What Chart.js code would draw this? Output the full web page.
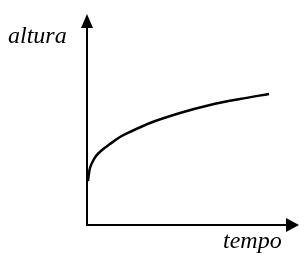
<!DOCTYPE html>
<html>
<head>
<meta charset="utf-8">
<script src="https://cdn.jsdelivr.net/npm/chart.js@4"></script>
<style>
  html, body { margin: 0; padding: 0; background: #fff; }
  #wrap { width: 299px; height: 255px; }
</style>
</head>
<body>
<div id="wrap"><canvas id="_canvasc" width="299" height="255"></canvas></div>
<script>
	// ******************************************************** DATA
	var tempo  = [ 1, 2, 3, 6, 9, 15, 23, 33, 45, 63, 93, 123, 153, 182 ];
	var altura = [ 44, 52, 57, 64, 69, 75, 81, 88, 94, 102, 112, 120, 126, 131 ];
	var xLabel = "tempo";
	var yLabel = "altura";

	var points = tempo.map(function (t, i) { return { x: t, y: altura[i] }; });

	// ******************************************************** AXES PLUGIN
	var axesArrows = {
		id: 'axesArrows',
		afterDraw: function (chart) {
			var c = chart.ctx, a = chart.chartArea;
			var x0 = chart.scales.x.getPixelForValue(0);
			var y0 = chart.scales.y.getPixelForValue(0);
			c.save();
			c.strokeStyle = '#000';
			c.fillStyle = '#000';
			c.lineWidth = 2;
			// y axis
			c.beginPath();
			c.moveTo(x0, y0);
			c.lineTo(x0, a.top + 10);
			c.stroke();
			c.beginPath();
			c.moveTo(x0, a.top);
			c.lineTo(x0 - 6, a.top + 14);
			c.lineTo(x0 + 6, a.top + 14);
			c.closePath();
			c.fill();
			// x axis
			c.beginPath();
			c.moveTo(x0 - 1, y0);
			c.lineTo(a.right - 10, y0);
			c.stroke();
			c.beginPath();
			c.moveTo(a.right, y0);
			c.lineTo(a.right - 13, y0 - 7);
			c.lineTo(a.right - 13, y0 + 7);
			c.closePath();
			c.fill();
			// labels
			c.font = 'italic 24px "Liberation Serif"';
			c.textBaseline = 'alphabetic';
			c.textAlign = 'left';
			c.fillText(yLabel, 8, 43);
			c.fillText(xLabel, 223, y0 + 23);
			c.restore();
		}
	};

	// ******************************************************** CHART
	var config = {
		type: 'scatter',
		data: {
			datasets: [{
				data: points,
				showLine: true,
				borderColor: '#000',
				borderWidth: 2.5,
				pointRadius: 0,
				cubicInterpolationMode: 'monotone',
				fill: false
			}]
		},
		options: {
			responsive: false,
			animation: false,
			layout: { padding: { left: 87, top: 14, right: 0, bottom: 30 } },
			plugins: { legend: { display: false }, tooltip: { enabled: false } },
			scales: {
				x: { type: 'linear', display: false, min: 0, max: 212 },
				y: { type: 'linear', display: false, min: 0, max: 211 }
			}
		},
		plugins: [axesArrows]
	};

	var _ctxc = document.getElementById("_canvasc").getContext("2d");
	window.myChart = new Chart(_ctxc, config);
</script>
</body>
</html>
